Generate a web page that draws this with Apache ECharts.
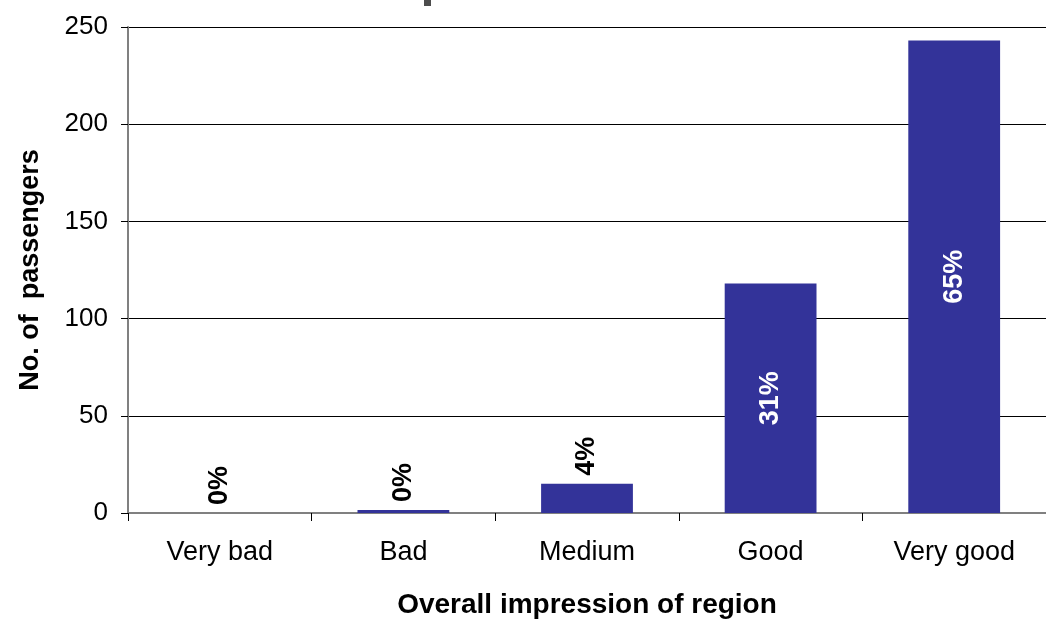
<!DOCTYPE html>
<html><head><meta charset="utf-8">
<script src="https://cdn.jsdelivr.net/npm/echarts@6/dist/echarts.min.js"></script>
<style>html,body{margin:0;padding:0;background:#fff}#c{width:1046px;height:623px}</style>
</head><body><div id="c"></div>
<script>
const categories = ['Very bad', 'Bad', 'Medium', 'Good', 'Very good'];
const passengers = [0, 1.5, 15, 118, 243];
const percentLabels = ['0%', '0%', '4%', '31%', '65%'];
const insideLabel = [false, false, false, true, true];
const yTicks = [0, 50, 100, 150, 200, 250];

const chart = echarts.init(document.getElementById('c'));
const font = 'Liberation Sans, Arial, sans-serif';
chart.setOption({
  animation: false,
  graphic: [{type: 'rect', left: 424, top: 0, shape: {width: 7, height: 6}, style: {fill: '#4d4d4d'}}],
  grid: {left: 128, right: 0, top: 27, bottom: 110, containLabel: false, outerBoundsMode: 'none'},
  xAxis: {
    type: 'category', data: categories,
    name: 'Overall impression of region', nameLocation: 'middle', nameGap: 78,
    nameTextStyle: {fontFamily: font, fontSize: 28, fontWeight: 'bold', color: '#000'},
    axisLine: {lineStyle: {color: '#808080', width: 2}},
    axisTick: {show: true, length: 8, lineStyle: {color: '#000'}},
    axisLabel: {fontFamily: font, fontSize: 27, color: '#000', margin: 26}
  },
  yAxis: {
    type: 'value', min: yTicks[0], max: yTicks[yTicks.length - 1], interval: 50,
    name: 'No. of  passengers', nameLocation: 'middle', nameGap: 84,
    nameTextStyle: {fontFamily: font, fontSize: 27, fontWeight: 'bold', color: '#000'},
    axisLine: {show: true, lineStyle: {color: '#808080', width: 2}},
    axisTick: {show: true, length: 7, lineStyle: {color: '#000'}},
    axisLabel: {fontFamily: font, fontSize: 26, color: '#000', margin: 20},
    splitLine: {lineStyle: {color: '#000', width: 1}}
  },
  series: [{
    type: 'bar', barWidth: '50%',
    data: passengers.map((v, i) => ({
      value: v,
      label: insideLabel[i]
        ? {show: true, position: 'inside', rotate: 90, color: '#fff', align: 'center', verticalAlign: 'middle'}
        : {show: true, position: 'top', rotate: 90, color: '#000', align: 'left', verticalAlign: 'middle', distance: 8}
    })),
    itemStyle: {color: '#333399'},
    label: {fontFamily: font, fontSize: 27, fontWeight: 'bold', formatter: p => percentLabels[p.dataIndex]}
  }]
});
</script></body></html>
